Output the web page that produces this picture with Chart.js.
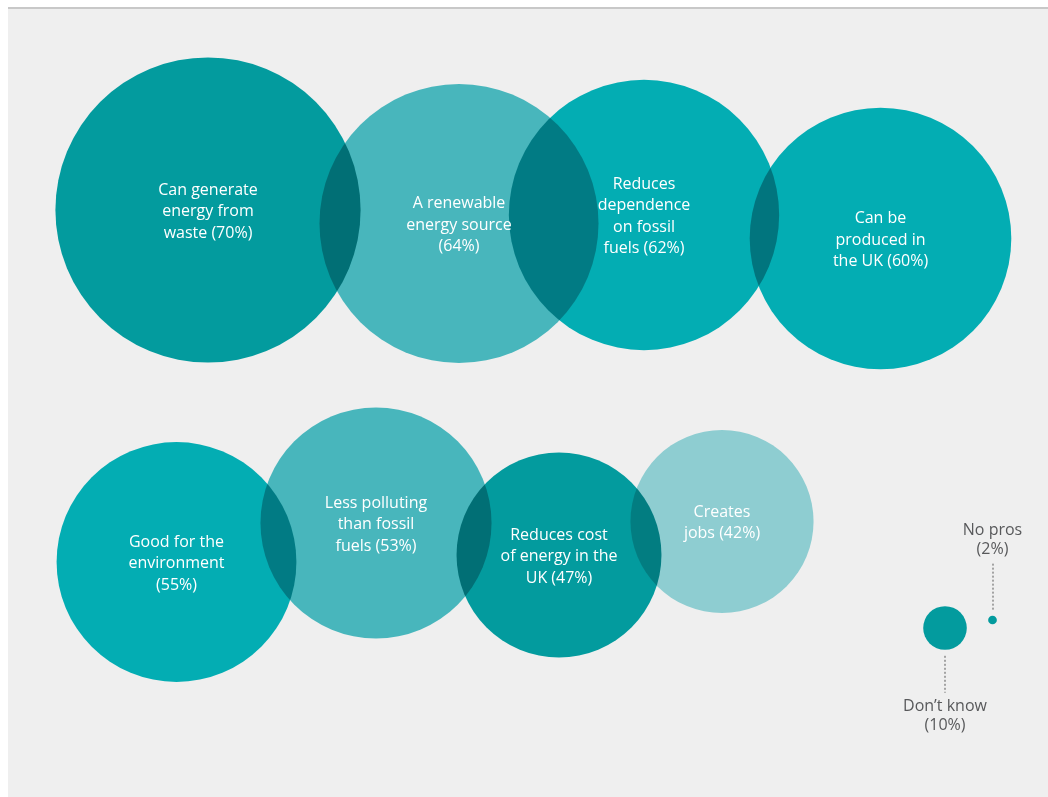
<!DOCTYPE html>
<html>
<head>
<meta charset="utf-8">
<script src="https://cdn.jsdelivr.net/npm/chart.js@4"></script>
<style>
    html, body {
        margin: 0;
        padding: 0;
        background: #ffffff;
    }
    #panel {
        position: absolute;
        left: 8px;
        top: 7px;
        width: 1040px;
        height: 788px;
        background: #efefef;
        border-top: 2px solid #c8c8c8;
    }
    #bubble-chart {
        position: absolute;
        left: 0;
        top: 0;
    }
</style>
</head>
<body>
<div id="panel"></div>
<canvas id="bubble-chart" width="1048" height="797"></canvas>
<script>
// reasons given, line breaks as they appear inside each bubble
const categories = [
    "Can generate\nenergy from\nwaste",
    "A renewable\nenergy source\n",
    "Reduces\ndependence\non fossil\nfuels",
    "Can be\nproduced in\nthe UK",
    "Good for the\nenvironment\n",
    "Less polluting\nthan fossil\nfuels",
    "Reduces cost\nof energy in the\nUK",
    "Creates\njobs",
    "Don\u2019t know\n",
    "No pros\n"
];

// share of respondents (%)
const values = [70, 64, 62, 60, 55, 53, 47, 42, 10, 2];

// bubble centres on a 0-104.8 by 0-79.7 layout grid
const bubbleX = [20.8, 45.9, 64.4, 88.05, 17.65, 37.6, 55.9, 72.2, 94.5, 99.25];
const bubbleY = [21.0, 22.35, 21.5, 23.85, 56.2, 52.3, 55.5, 52.15, 62.8, 62.0];

// fill colours
const bubbleColours = ["#039b9e", "#48b6bc", "#03adb3", "#03adb3", "#03adb3",
                       "#48b6bc", "#039b9e", "#8ecdd1", "#039b9e", "#039b9e"];

// where the label goes for the small bubbles (inside otherwise)
const labelPlacement = ["in", "in", "in", "in", "in", "in", "in", "in", "below", "above"];

// radius grows linearly with the percentage
const PX_PER_POINT = 2.18;

const LABEL_FONT = '16px "Open Sans", "Noto Sans", sans-serif';
const LINE_HEIGHT = 21.5;

// multiply the fills so overlapping bubbles darken
const multiplyBlend = {
    id: "multiplyBlend",
    beforeDatasetsDraw(chart) {
        chart.ctx.save();
        chart.ctx.globalCompositeOperation = "multiply";
    },
    afterDatasetsDraw(chart) {
        chart.ctx.restore();
    }
};

// text labels, inside the bubble or hanging off a dotted leader
const bubbleLabels = {
    id: "bubbleLabels",
    afterDraw(chart) {
        const ctx = chart.ctx;
        const meta = chart.getDatasetMeta(0);
        ctx.save();
        ctx.font = LABEL_FONT;
        ctx.textAlign = "center";
        ctx.textBaseline = "middle";

        meta.data.forEach((point, i) => {
            let text = categories[i];
            text += (text.endsWith("\n") ? "" : " ") + "(" + values[i] + "%)";
            const lines = text.split("\n");
            const r = values[i] * PX_PER_POINT;
            let firstY;

            if (labelPlacement[i] === "in") {
                ctx.fillStyle = "#ffffff";
                firstY = point.y - (lines.length - 1) * LINE_HEIGHT / 2 + 1.5;
                lines.forEach((line, j) => {
                    ctx.fillText(line, point.x, firstY + j * LINE_HEIGHT);
                });
                return;
            }

            // dotted leader, longer when it rises above the tiny bubble
            const dir = labelPlacement[i] === "below" ? 1 : -1;
            const start = point.y + dir * (r + 6);
            const end = start + dir * (dir === 1 ? 37 : 47);
            ctx.strokeStyle = "#a3a3a3";
            ctx.lineWidth = 2;
            ctx.setLineDash([2, 2]);
            ctx.beginPath();
            ctx.moveTo(Math.round(point.x), start);
            ctx.lineTo(Math.round(point.x), end);
            ctx.stroke();
            ctx.setLineDash([]);

            ctx.fillStyle = "#58595b";
            const step = 19;
            if (dir === 1) {
                firstY = end + 14;
            } else {
                firstY = end - 13 - (lines.length - 1) * step;
            }
            lines.forEach((line, j) => {
                ctx.fillText(line, point.x, firstY + j * step);
            });
        });
        ctx.restore();
    }
};

let ctx = document.getElementById("bubble-chart").getContext("2d");

// creating bubble chart
let bubbleChart = new Chart(ctx, {
    type: "bubble",
    data: {
        labels: categories,
        datasets: [
            {
                data: values.map((v, i) => ({ x: bubbleX[i], y: bubbleY[i], r: v * PX_PER_POINT })),
                backgroundColor: bubbleColours,
                borderWidth: 0,
                hoverBorderWidth: 0,
                clip: false,
            },
        ],
    },
    options: {
        responsive: false,
        maintainAspectRatio: false,
        animation: false,
        events: [],
        layout: { padding: 0, autoPadding: false },
        scales: {
            x: { display: false, min: 0, max: 104.8 },
            y: { display: false, min: 0, max: 79.7, reverse: true },
        },
        plugins: {
            legend: { display: false },
            tooltip: { enabled: false },
        },
    },
    plugins: [multiplyBlend, bubbleLabels],
});
</script>
</body>
</html>
